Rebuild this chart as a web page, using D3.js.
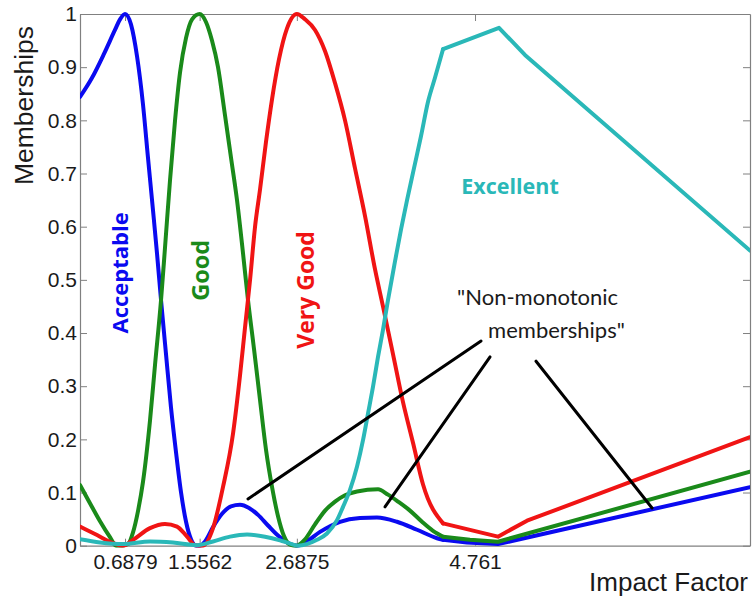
<!DOCTYPE html>
<html>
<head>
<meta charset="utf-8">
<script src="https://cdn.jsdelivr.net/npm/d3@7"></script>
<style>
  html, body { margin: 0; padding: 0; background: #fff; }
  svg { display: block; }
</style>
</head>
<body>
<svg id="chart" width="752" height="601"></svg>
<script>
// Membership degree of each linguistic grade along the impact factor axis: [impact factor, membership]
const acceptable = [
  [0.164,0.844],[0.304,0.88],[0.443,0.925],[0.571,0.97],[0.630,0.99],[0.6879,1.0],
  [0.758,0.98],[0.828,0.92],[0.897,0.83],[0.955,0.73],[1.014,0.63],[1.060,0.55],
  [1.107,0.462],[1.165,0.36],[1.223,0.26],[1.282,0.175],[1.340,0.10],[1.398,0.045],
  [1.456,0.012],[1.515,0.0],[1.5562,0.0],[1.619,0.008],[1.712,0.035],[1.817,0.06],
  [1.921,0.074],[2.026,0.077],[2.131,0.071],[2.236,0.058],[2.352,0.038],[2.468,0.019],
  [2.585,0.005],[2.690,0.0],[2.783,0.006],[2.957,0.026],[3.190,0.045],[3.422,0.052],
  [3.620,0.053],[3.853,0.045],[4.086,0.03],[4.319,0.014],[4.389,0.011],[4.667,0.006],
  [5.028,0.003],[7.961,0.11]
];
const good = [
  [0.164,0.114],[0.280,0.08],[0.397,0.046],[0.513,0.016],[0.583,0.0],[0.653,0.0],
  [0.723,0.003],[0.781,0.025],[0.839,0.065],[0.897,0.12],[0.979,0.236],[1.037,0.34],
  [1.107,0.462],[1.153,0.56],[1.211,0.686],[1.270,0.8],[1.328,0.89],[1.398,0.955],
  [1.468,0.99],[1.5562,1.0],[1.630,0.985],[1.700,0.95],[1.770,0.9],[1.851,0.81],
  [1.921,0.73],[1.991,0.65],[2.061,0.55],[2.119,0.462],[2.189,0.37],[2.259,0.274],
  [2.329,0.18],[2.399,0.11],[2.469,0.055],[2.538,0.018],[2.608,0.002],[2.678,0.0],
  [2.783,0.012],[2.899,0.04],[3.016,0.066],[3.132,0.083],[3.248,0.095],[3.388,0.102],
  [3.632,0.106],[3.748,0.096],[3.865,0.083],[4.004,0.066],[4.144,0.045],[4.272,0.028],
  [4.389,0.017],[4.702,0.011],[5.028,0.0075],[7.961,0.139]
];
const veryGood = [
  [0.164,0.036],[0.362,0.02],[0.548,0.005],[0.665,0.0],[0.781,0.011],[0.979,0.033],
  [1.153,0.041],[1.293,0.036],[1.410,0.017],[1.503,0.001],[1.596,0.0],[1.712,0.033],
  [1.829,0.111],[1.945,0.211],[2.026,0.32],[2.084,0.41],[2.143,0.5],[2.201,0.6],
  [2.259,0.67],[2.329,0.76],[2.399,0.84],[2.480,0.915],[2.573,0.973],[2.6875,1.0],
  [2.782,0.99],[2.899,0.97],[3.016,0.93],[3.132,0.87],[3.248,0.80],[3.364,0.71],
  [3.481,0.62],[3.597,0.52],[3.690,0.45],[3.807,0.36],[3.923,0.27],[4.040,0.193],
  [4.156,0.115],[4.389,0.042],[5.028,0.017],[5.366,0.047],[7.961,0.204]
];
const excellent = [
  [0.164,0.012],[0.397,0.006],[0.665,0.003],[0.979,0.008],[1.246,0.006],[1.526,0.001],
  [1.712,0.008],[1.910,0.017],[2.108,0.021],[2.317,0.017],[2.492,0.01],[2.608,0.004],
  [2.701,0.0],[2.922,0.011],[3.038,0.023],[3.155,0.048],[3.225,0.073],[3.306,0.105],
  [3.388,0.149],[3.458,0.199],[3.516,0.249],[3.574,0.299],[3.632,0.355],[3.690,0.406],
  [3.748,0.462],[3.830,0.535],[3.900,0.595],[3.970,0.65],[4.051,0.71],[4.132,0.77],
  [4.214,0.835],[4.295,0.88],[4.389,0.934],[5.040,0.974],[5.342,0.923],[7.961,0.555]
];

const xDomain = [0.164, 7.961];
const xTicks = [0.6879, 1.5562, 2.6875, 4.761];
const xTickLabels = ["0.6879", "1.5562", "2.6875", "4.761"];
const yTicks = [0, 0.1, 0.2, 0.3, 0.4, 0.5, 0.6, 0.7, 0.8, 0.9, 1];
const yTickLabels = ["0", "0.1", "0.2", "0.3", "0.4", "0.5", "0.6", "0.7", "0.8", "0.9", "1"];
// Past this abscissa the memberships are sampled sparsely and joined by straight segments
const linearFrom = 4.389;

// Grade names and where they are written: [label, x, y]
const gradeLabels = [
  ["Acceptable", 0.618, 0.513],
  ["Good", 1.561, 0.518],
  ["Very Good", 2.782, 0.481]
];
const excellentLabel = ["Excellent", 5.168, 0.662];
// Callout text and the leader lines pointing at the non-monotonic bumps
const calloutLines = ["\"Non-monotonic", "memberships\""];
const calloutAnchor = [[4.552, 0.452], [4.913, 0.39]];
const leaders = [
  [[4.831, 0.385], [2.119, 0.088]],
  [[4.936, 0.355], [3.713, 0.073]],
  [[5.471, 0.347], [6.821, 0.071]]
];

const colors = {
  acceptable: "#0a0af0",
  good: "#1a8a1a",
  veryGood: "#f01414",
  excellent: "#2ab8b8"
};

const svg = d3.select("#chart");
const plot = { left: 80, right: 750, top: 14, bottom: 545.7 };

const x = d3.scaleLinear().domain(xDomain).range([plot.left, plot.right]);
const y = d3.scaleLinear().domain([0, 1]).range([plot.bottom, plot.top]);

svg.append("defs").append("clipPath").attr("id", "plot-clip")
  .append("rect")
  .attr("x", plot.left).attr("y", plot.top - 4)
  .attr("width", plot.right - plot.left).attr("height", plot.bottom - plot.top + 6);

const tickFont = "'Liberation Sans', Arial, sans-serif";
const axisColor = "#808080";

// Axes with inward ticks, mirrored on the top and right edges
const xBottom = d3.axisBottom(x).tickValues(xTicks).tickFormat((d, i) => xTickLabels[i]).tickSizeInner(-7).tickSizeOuter(0).tickPadding(8);
const xTop = d3.axisTop(x).tickValues(xTicks).tickFormat("").tickSizeInner(-7).tickSizeOuter(0);
const yLeft = d3.axisLeft(y).tickValues(yTicks).tickFormat((d, i) => yTickLabels[i]).tickSizeInner(-7).tickSizeOuter(0).tickPadding(3);
const yRight = d3.axisRight(y).tickValues(yTicks).tickFormat("").tickSizeInner(-7).tickSizeOuter(0);

function styleAxis(g) {
  g.select(".domain").attr("stroke", axisColor).attr("stroke-width", 1.2);
  g.selectAll(".tick line").attr("stroke", axisColor).attr("stroke-width", 1);
  g.selectAll(".tick text").attr("fill", "#1a1a1a").style("font-family", tickFont).style("font-size", "21px");
}

svg.append("g").attr("transform", `translate(0,${plot.bottom})`).call(xBottom).call(styleAxis);
svg.append("g").attr("transform", `translate(0,${plot.top})`).call(xTop).call(styleAxis);
svg.append("g").attr("transform", `translate(${plot.left},0)`).call(yLeft).call(styleAxis);
svg.append("g").attr("transform", `translate(${plot.right},0)`).call(yRight).call(styleAxis);

// Axis titles
svg.append("text")
  .attr("x", plot.right - 2).attr("y", plot.bottom + 45)
  .attr("text-anchor", "end")
  .style("font-family", tickFont).style("font-size", "26px").attr("fill", "#1a1a1a")
  .text("Impact Factor");
svg.append("text")
  .attr("transform", `translate(33,${(plot.top + 185) / 2 + 6}) rotate(-90)`)
  .attr("text-anchor", "middle")
  .style("font-family", tickFont).style("font-size", "26.5px").attr("fill", "#1a1a1a")
  .text("Memberships");

// Membership curves
const smoothLine = d3.line().x(d => x(d[0])).y(d => y(d[1])).curve(d3.curveMonotoneX);
const straightLine = d3.line().x(d => x(d[0])).y(d => y(d[1])).curve(d3.curveLinear);

const series = [
  { key: "acceptable", data: acceptable },
  { key: "good", data: good },
  { key: "veryGood", data: veryGood },
  { key: "excellent", data: excellent }
];

const curves = svg.append("g").attr("clip-path", "url(#plot-clip)");
series.forEach(s => {
  const head = s.data.filter(d => d[0] <= linearFrom);
  const tail = s.data.filter(d => d[0] >= linearFrom);
  curves.append("path").attr("d", smoothLine(head))
    .attr("fill", "none").attr("stroke", colors[s.key]).attr("stroke-width", 4)
    .attr("stroke-linejoin", "round").attr("stroke-linecap", "round");
  curves.append("path").attr("d", straightLine(tail))
    .attr("fill", "none").attr("stroke", colors[s.key]).attr("stroke-width", 4)
    .attr("stroke-linejoin", "round").attr("stroke-linecap", "round");
});

// Leader lines
svg.append("g").selectAll("line").data(leaders).join("line")
  .attr("x1", d => x(d[0][0])).attr("y1", d => y(d[0][1]))
  .attr("x2", d => x(d[1][0])).attr("y2", d => y(d[1][1]))
  .attr("stroke", "#000").attr("stroke-width", 3).attr("stroke-linecap", "round");

// Grade labels
const labelFont = "'Open Sans', 'Noto Sans', sans-serif";
const labelColors = [colors.acceptable, colors.good, colors.veryGood];
const labelSizes = ["22px", "23.5px", "23px"];
svg.append("g").selectAll("text").data(gradeLabels).join("text")
  .attr("transform", d => `translate(${x(d[1])},${y(d[2])}) rotate(-90)`)
  .attr("text-anchor", "middle").attr("dominant-baseline", "central")
  .style("font-family", labelFont).style("font-weight", "700")
  .style("font-size", (d, i) => labelSizes[i])
  .attr("fill", (d, i) => labelColors[i])
  .text(d => d[0]);

svg.append("text")
  .attr("x", x(excellentLabel[1])).attr("y", y(excellentLabel[2]))
  .attr("text-anchor", "middle")
  .style("font-family", labelFont).style("font-weight", "700").style("font-size", "21.5px")
  .attr("fill", colors.excellent)
  .text(excellentLabel[0]);

// Callout text
svg.append("g").selectAll("text").data(calloutLines).join("text")
  .attr("x", (d, i) => x(calloutAnchor[i][0])).attr("y", (d, i) => y(calloutAnchor[i][1]))
  .style("font-family", "Lato, 'Open Sans', sans-serif").style("font-size", "22px")
  .attr("fill", "#1a1a1a")
  .text(d => d);
</script>
</body>
</html>
